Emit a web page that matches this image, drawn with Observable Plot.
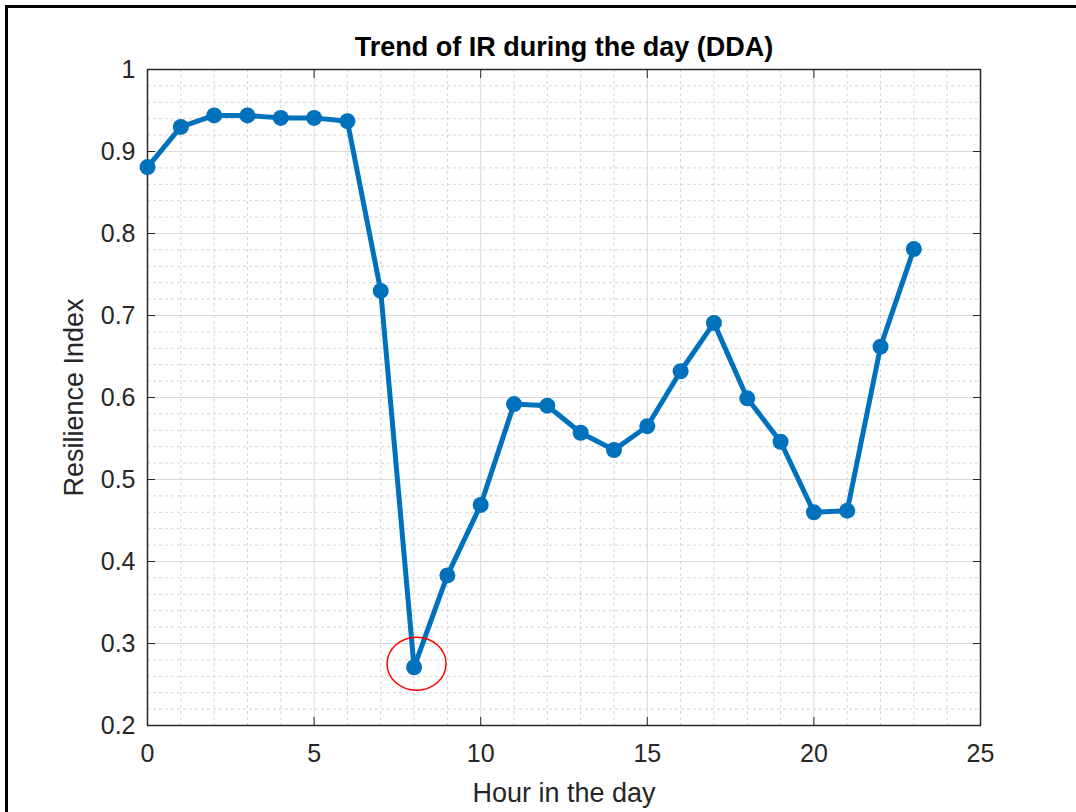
<!DOCTYPE html>
<html>
<head>
<meta charset="utf-8">
<script src="https://cdn.jsdelivr.net/npm/d3@7"></script>
<script src="https://cdn.jsdelivr.net/npm/@observablehq/plot@0.6"></script>
<style>
  html, body { margin: 0; padding: 0; background: #fff; overflow: hidden; }
  #wrap { position: relative; width: 1076px; height: 812px; }
  #border { position: absolute; left: 5px; top: 5px; right: -10px; bottom: -10px;
            border-left: 3px solid #000; border-top: 3px solid #000; pointer-events: none; }
  #chart { position: absolute; left: 0; top: 0; }
</style>
</head>
<body>
<div id="wrap"><div id="chart"></div><div id="border"></div></div>
<script>
// ---- data ----
const hours = [0,1,2,3,4,5,6,7,8,9,10,11,12,13,14,15,16,17,18,19,20,21,22,23];
const resilience = [0.881,0.930,0.944,0.944,0.941,0.941,0.937,0.730,0.271,0.383,0.469,0.592,
                    0.590,0.557,0.536,0.565,0.632,0.691,0.599,0.546,0.460,0.462,0.662,0.781];
const xTicks = [0,5,10,15,20,25];
const yTicks = [0.2,0.3,0.4,0.5,0.6,0.7,0.8,0.9,1];
const xMinor = [1,2,3,4,6,7,8,9,11,12,13,14,16,17,18,19,21,22,23,24];
const yMinor = d3.range(0.22, 1.0, 0.02).filter(v => Math.abs(v*10 - Math.round(v*10)) > 1e-6);
const highlightHour = [8];          // hour that is circled in red
const titleText = "Trend of IR during the day (DDA)";
const xLabel = "Hour in the day";
const yLabel = "Resilience Index";

const data = hours.map((h, i) => ({hour: h, value: resilience[i]}));
const highlight = data.filter(d => highlightHour.includes(d.hour));

const axisColor = "#262626";
const lineColor = "#0072BD";

// red ellipse annotation drawn through the scales
function ellipseMark(index, scales) {
  const g = d3.create("svg:g");
  for (const d of highlight) {
    g.append("ellipse")
      .attr("cx", scales.x(d.hour) + 3)
      .attr("cy", scales.y(d.value) - 3)
      .attr("rx", 29.5)
      .attr("ry", 26.5)
      .attr("fill", "none")
      .attr("stroke", "#ff0000")
      .attr("stroke-width", 1.5);
  }
  return g.node();
}

const chart = Plot.plot({
  width: 1076,
  height: 812,
  marginLeft: 147,
  marginRight: 96,
  marginTop: 69,
  marginBottom: 87,
  style: {fontFamily: "'Liberation Sans', Arial, Helvetica, sans-serif", fontSize: "25px", color: axisColor, background: "transparent"},
  x: {domain: [0, 25]},
  y: {domain: [0.2, 1]},
  marks: [
    Plot.gridX(xMinor, {stroke: "#d4d4d4", strokeOpacity: 1, strokeWidth: 1, strokeDasharray: "3,3"}),
    Plot.gridY(yMinor, {stroke: "#d4d4d4", strokeOpacity: 1, strokeWidth: 1, strokeDasharray: "3,3"}),
    Plot.gridX(xTicks, {stroke: "#d9d9d9", strokeOpacity: 1, strokeWidth: 1}),
    Plot.gridY(yTicks, {stroke: "#d9d9d9", strokeOpacity: 1, strokeWidth: 1}),
    Plot.axisX(xTicks, {anchor: "bottom", tickSize: -8, tickPadding: 27, stroke: axisColor, fill: axisColor, fontSize: 25, label: null, tickFormat: d => String(d)}),
    Plot.axisX(xTicks, {anchor: "top", tickSize: -8, stroke: axisColor, label: null, tickFormat: () => ""}),
    Plot.axisY(yTicks, {anchor: "left", tickSize: -8, tickPadding: 20, stroke: axisColor, fill: axisColor, fontSize: 25, label: null, tickFormat: d => String(+d.toFixed(1))}),
    Plot.axisY(yTicks, {anchor: "right", tickSize: -8, stroke: axisColor, label: null, tickFormat: () => ""}),
    Plot.frame({stroke: axisColor, strokeWidth: 1.5}),
    Plot.line(data, {x: "hour", y: "value", stroke: lineColor, strokeWidth: 5, strokeLinejoin: "round"}),
    Plot.dot(data, {x: "hour", y: "value", r: 8, fill: lineColor, stroke: "none"}),
    ellipseMark,
    Plot.text([titleText], {text: d => d, frameAnchor: "top", lineAnchor: "middle", dy: -22, fontSize: 27, fontWeight: "bold", fill: "#000", letterSpacing: "0.5px"}),
    Plot.text([xLabel], {text: d => d, frameAnchor: "bottom", lineAnchor: "middle", dy: 68, fontSize: 27, fill: axisColor, letterSpacing: "0.3px"}),
    Plot.text([yLabel], {text: d => d, frameAnchor: "left", textAnchor: "middle", lineAnchor: "middle", dx: -73, rotate: -90, fontSize: 27, fill: axisColor, letterSpacing: "1px"})
  ]
});
document.getElementById("chart").appendChild(chart);
</script>
</body>
</html>
